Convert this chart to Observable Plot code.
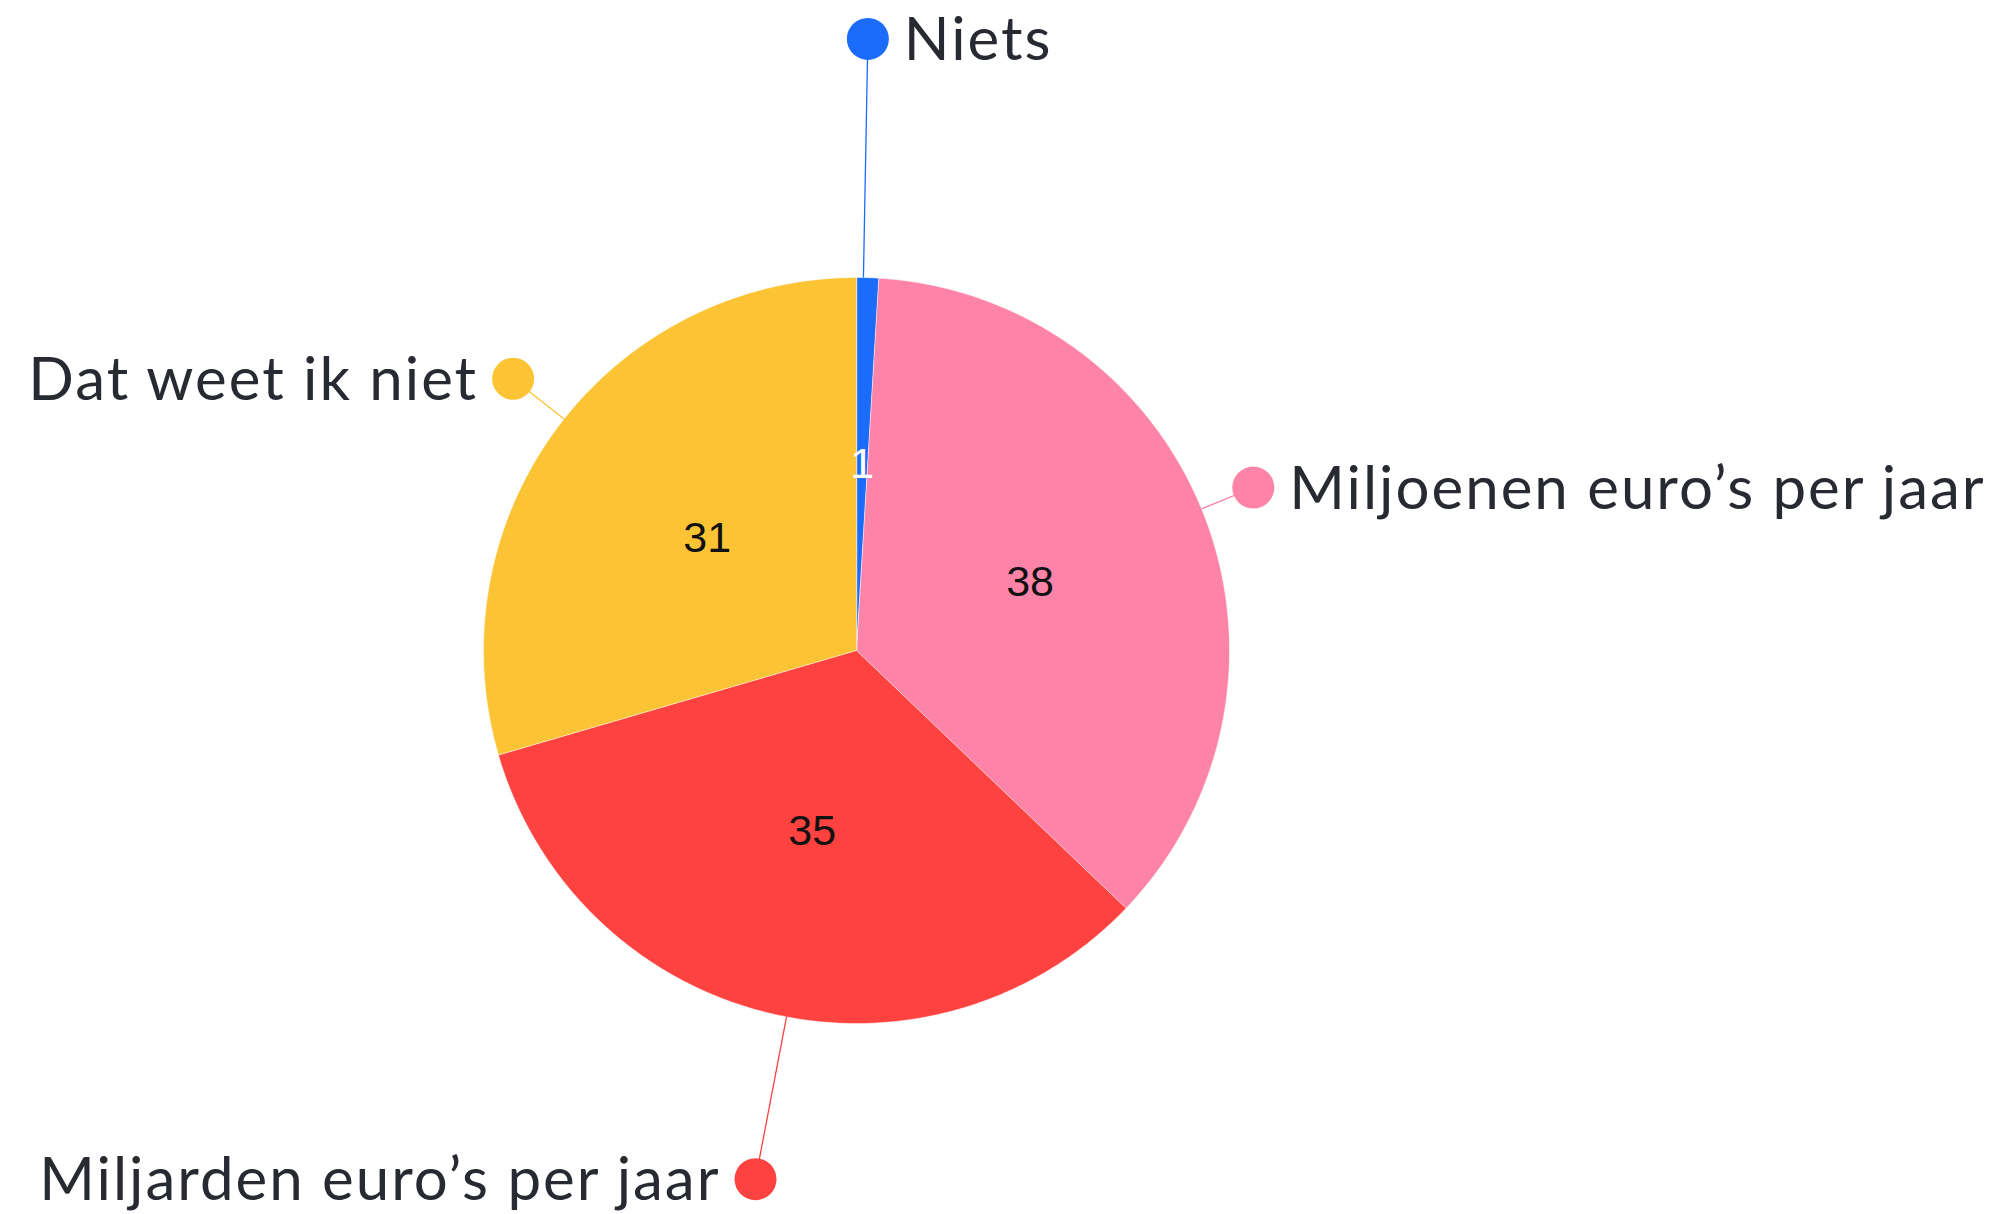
<!DOCTYPE html>
<html>
<head>
<meta charset="utf-8">
<script src="https://cdn.jsdelivr.net/npm/d3@7"></script>
<script src="https://cdn.jsdelivr.net/npm/@observablehq/plot@0.6"></script>
<style>
  html, body { margin: 0; padding: 0; background: #ffffff; }
  #chart svg { display: block; }
  #chart .cat text { letter-spacing: 2px; }
</style>
</head>
<body>
<div id="chart"></div>
<script>
// ---- data ----
const categories = ["Niets", "Miljoenen euro’s per jaar", "Miljarden euro’s per jaar", "Dat weet ik niet"];
const values = [1, 38, 35, 31];
const colors = ["#1b6cfb", "#fe83a9", "#fe423f", "#fcc434"];
const valueLabels = ["1", "38", "35", "31"];

// ---- layout (not data) ----
const W = 1992, H = 1214;
const cx = 856, cy = 650, R = 373;              // pixel centre and radius of the pie
const labelDist = [1.64, 1.15, 1.443, 1.174];    // connector end, in radii
const labelShift = [-0.65, -0.9, -2.9, 1.5];     // connector angle offset, degrees
const labelSide = ["right", "right", "left", "left"];
const valueColors = ["#ffffff", "#111111", "#111111", "#111111"];

const pie = d3.pie().sort(null).value(d => d)(values);

// polygon vertices of each slice (unit radius, y up)
const slicePts = [];
pie.forEach((p, i) => {
  const a0 = p.startAngle, a1 = p.endAngle;
  const n = Math.max(2, Math.ceil((a1 - a0) / (Math.PI / 360)));
  slicePts.push({name: categories[i], x: 0, y: 0});
  for (let k = 0; k <= n; k++) {
    const a = a0 + (a1 - a0) * k / n;
    slicePts.push({name: categories[i], x: Math.sin(a), y: Math.cos(a)});
  }
});

const labels = pie.map((p, i) => {
  const m = (p.startAngle + p.endAngle) / 2;
  const la = m + labelShift[i] * Math.PI / 180;
  return {
    name: categories[i],
    value: valueLabels[i],
    vcolor: valueColors[i],
    side: labelSide[i],
    ex: Math.sin(la), ey: Math.cos(la),
    lx: labelDist[i] * Math.sin(la), ly: labelDist[i] * Math.cos(la),
    ix: 0.5 * Math.sin(m), iy: 0.5 * Math.cos(m)
  };
});

const xDomain = [-cx / R, (W - cx) / R];
const yDomain = [-(H - cy) / R, cy / R];

const catFont = "Lato, 'Noto Sans', sans-serif";

const chart = Plot.plot({
  width: W, height: H,
  margin: 0,
  x: {domain: xDomain, axis: null},
  y: {domain: yDomain, axis: null},
  color: {domain: categories, range: colors},
  style: {background: "#ffffff"},
  marks: [
    Plot.line(slicePts, {x: "x", y: "y", z: "name", fill: "name", stroke: "#ffffff", strokeWidth: 0.5, curve: "linear-closed"}),
    Plot.link(labels, {x1: "ex", y1: "ey", x2: "lx", y2: "ly", stroke: "name", strokeWidth: 1.3}),
    Plot.dot(labels, {x: "lx", y: "ly", r: 21, fill: "name"}),
    Plot.text(labels.filter(d => d.side === "right"), {
      x: "lx", y: "ly", text: "name", textAnchor: "start", dx: 36, dy: 2,
      fontSize: 60, fill: "#272a31", fontFamily: catFont, className: "cat"
    }),
    Plot.text(labels.filter(d => d.side === "left"), {
      x: "lx", y: "ly", text: "name", textAnchor: "end", dx: -35, dy: 2,
      fontSize: 60, fill: "#272a31", fontFamily: catFont, className: "cat"
    }),
    Plot.text(labels, {
      x: "ix", y: "iy", text: "value", fill: "vcolor", fontSize: 43,
      fontFamily: "'Liberation Sans', Arial, sans-serif"
    })
  ]
});
document.getElementById("chart").appendChild(chart);
</script>
</body>
</html>
